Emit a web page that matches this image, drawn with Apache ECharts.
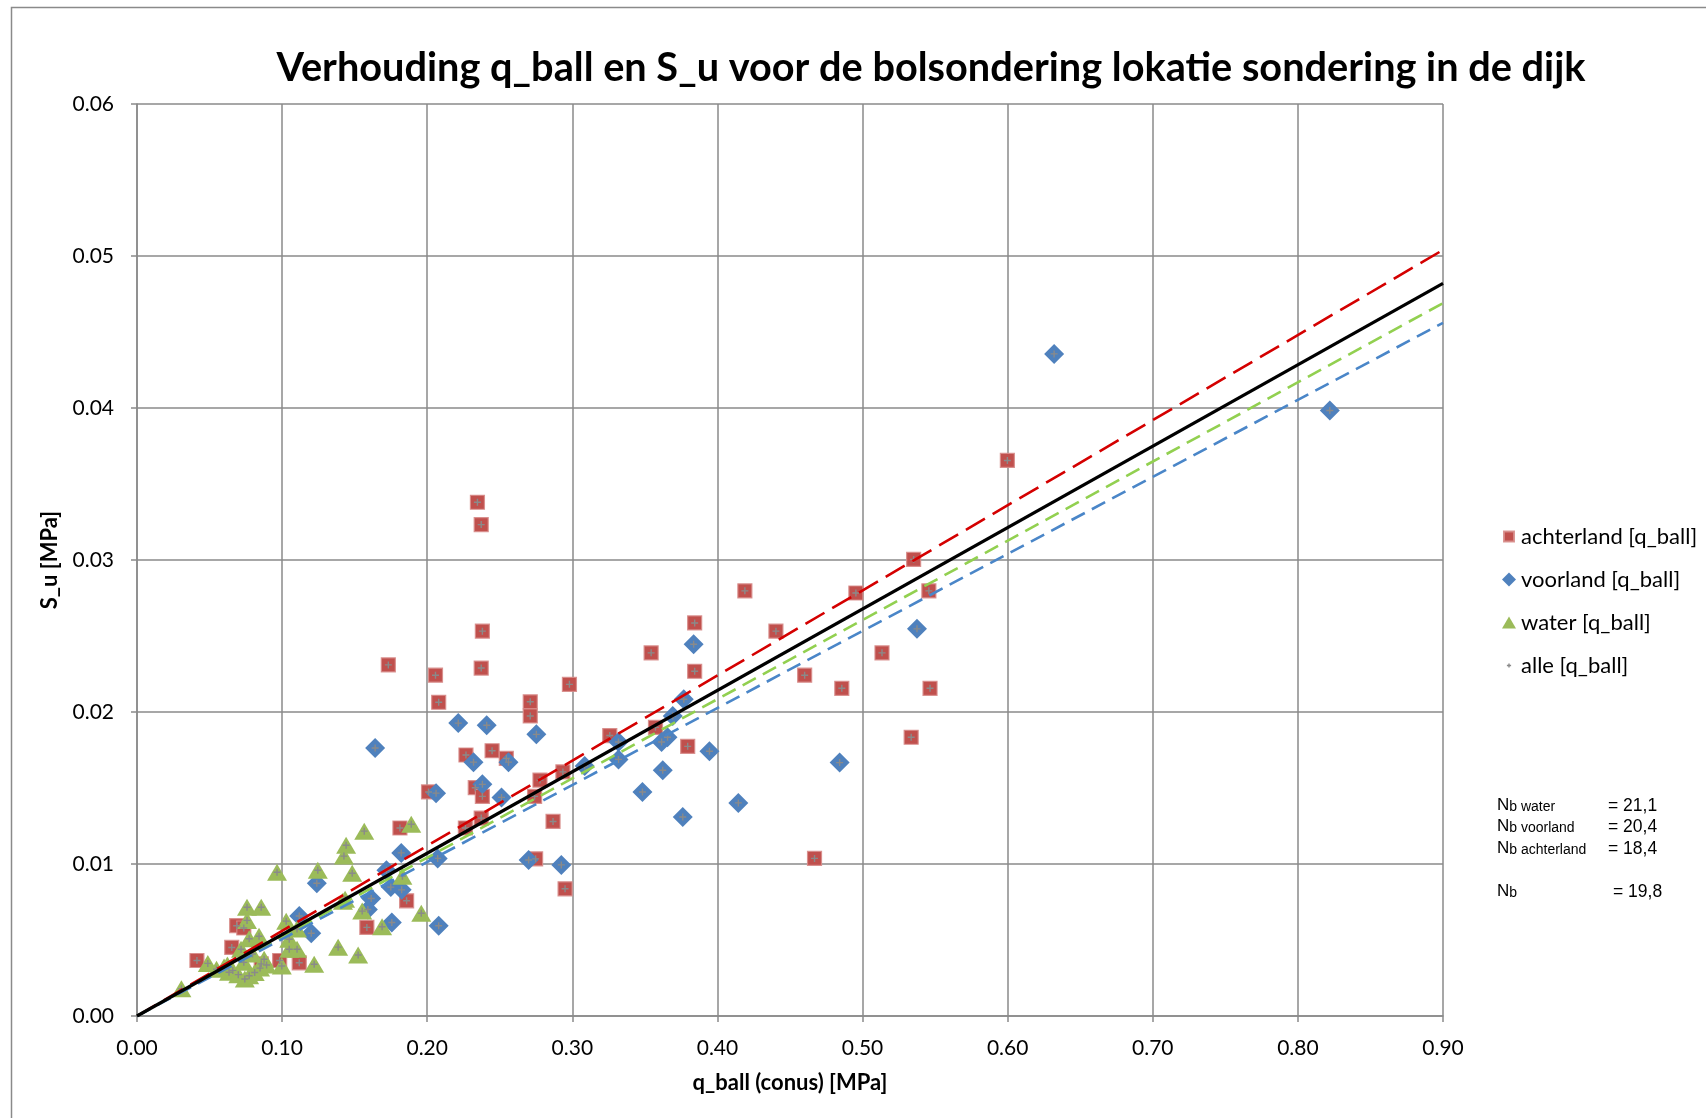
<!DOCTYPE html>
<html><head><meta charset="utf-8">
<script src="https://cdn.jsdelivr.net/npm/echarts@6/dist/echarts.min.js"></script>
<style>html,body{margin:0;padding:0;background:#fff}#c{width:1706px;height:1118px}</style>
</head><body><div id="c"></div>
<script>
const titleText = 'Verhouding q_ball en S_u voor de bolsondering lokatie sondering in de dijk';
const xAxisName = 'q_ball (conus) [MPa]';
const yAxisName = 'S_u [MPa]';
const xMin = 0, xMax = 0.9, xStep = 0.1;
const yMin = 0, yMax = 0.06, yStep = 0.01;

const achterland = [[0.2346,0.0338],[0.2372,0.03233],[0.2380,0.02532],[0.2372,0.02289],[0.1732,0.0231],[0.2057,0.02242],[0.2079,0.02064],[0.2710,0.02067],[0.2710,0.01974],[0.2980,0.02182],[0.2009,0.01474],[0.2267,0.01717],[0.2447,0.01745],[0.2331,0.01502],[0.2380,0.01445],[0.2372,0.01302],[0.2263,0.01237],[0.1812,0.01237],[0.2777,0.01552],[0.2935,0.01606],[0.2867,0.0128],[0.2950,0.00837],[0.2747,0.01034],[0.1858,0.00758],[0.1584,0.00583],[0.0413,0.00365],[0.0687,0.00594],[0.0736,0.00579],[0.0653,0.00451],[0.0983,0.00365],[0.1118,0.0035],[0.0856,0.00343],[0.3258,0.01845],[0.3543,0.02389],[0.3573,0.01899],[0.3795,0.01774],[0.3843,0.02586],[0.3843,0.02268],[0.4189,0.02797],[0.4403,0.02532],[0.4601,0.02242],[0.4857,0.02156],[0.4669,0.01037],[0.4954,0.02783],[0.5134,0.02389],[0.5352,0.03004],[0.5457,0.02797],[0.5465,0.02156],[0.5335,0.01834],[0.5998,0.03655],[0.2545,0.01695],[0.2740,0.01445]];

const voorland = [[0.632,0.04356],[0.822,0.03984],[0.5375,0.02547],[0.3836,0.02446],[0.3768,0.02084],[0.3692,0.01974],[0.3615,0.01803],[0.3656,0.01834],[0.3318,0.01803],[0.3318,0.01688],[0.3945,0.01742],[0.3623,0.01617],[0.3483,0.01474],[0.3761,0.01309],[0.4144,0.01402],[0.4842,0.01667],[0.1641,0.01763],[0.2214,0.01927],[0.2410,0.01913],[0.2752,0.01853],[0.2319,0.0167],[0.2560,0.0167],[0.2380,0.01524],[0.2512,0.01438],[0.2061,0.01466],[0.2699,0.01026],[0.2924,0.00994],[0.2072,0.01037],[0.1821,0.01073],[0.1239,0.00873],[0.1749,0.00848],[0.1824,0.0083],[0.1614,0.00773],[0.1591,0.00701],[0.1756,0.00615],[0.2079,0.00594],[0.1118,0.00658],[0.1201,0.00544],[0.1719,0.00959],[0.3085,0.01645]];

const water = [[0.0306,0.00179],[0.0488,0.00346],[0.0600,0.00322],[0.0634,0.00288],[0.0758,0.00715],[0.0856,0.00715],[0.0758,0.00629],[0.0773,0.00508],[0.0841,0.00525],[0.0717,0.00439],[0.0876,0.00373],[0.0736,0.00353],[0.0965,0.00946],[0.1246,0.00959],[0.1441,0.01123],[0.1426,0.01052],[0.1483,0.00939],[0.1434,0.00768],[0.1552,0.0069],[0.1689,0.00587],[0.1829,0.0092],[0.1959,0.00676],[0.1386,0.00453],[0.1524,0.00401],[0.1221,0.0034],[0.0998,0.00329],[0.1049,0.00439],[0.1103,0.00439],[0.1049,0.00505],[0.1103,0.00572],[0.1028,0.00624],[0.1566,0.01216],[0.1890,0.01262],[0.1419,0.00755],[0.0660,0.003],[0.0698,0.00272],[0.0773,0.00265],[0.0811,0.00286],[0.0848,0.00315],[0.0623,0.00336],[0.0796,0.00408],[0.0548,0.00308],[0.0893,0.00336],[0.0743,0.00243]];

// trend lines: from origin to x = 0.9
const trendNames = ['trend achterland', 'trend alle', 'trend water', 'trend voorland'];
const trendEnd = [[0.9,0.0504],[0.9,0.0482],[0.9,0.0469],[0.9,0.0456]];

const nbLabels = ['water', 'voorland', 'achterland', ''];
const nbValues = ['= 21,1', '= 20,4', '= 18,4', '= 19,8'];

const seriesNames = ['achterland [q_ball]', 'voorland [q_ball]', 'water [q_ball]', 'alle [q_ball]'];
const alle = achterland.concat(voorland, water);

const FONT = 'Lato';
const gridCol = '#8a8a8a';
const chart = echarts.init(document.getElementById('c'), null, {renderer: 'canvas'});

const trendStyles = [
  {color: '#D40000', width: 2.6, type: [22, 9]},
  {color: '#000000', width: 3.2, type: 'solid'},
  {color: '#92D050', width: 2.6, type: [15, 8]},
  {color: '#4A86C8', width: 2.6, type: [15, 8]}
];

const nbGraphics = [];
const nbRowY = [797, 818, 840, 883];
nbLabels.forEach((l, i) => {
  nbGraphics.push({type: 'text', left: 1497, top: nbRowY[i], z: 10,
    style: {text: '{n|N}{s|b' + (l ? ' ' + l : '') + '}', rich: {
      n: {fontFamily: 'Liberation Sans', fontSize: 17, fill: '#000'},
      s: {fontFamily: 'Liberation Sans', fontSize: 14, fill: '#000', padding: [3, 0, 0, 0]}
    }}});
  nbGraphics.push({type: 'text', left: i === 3 ? 1613 : 1608, top: nbRowY[i], z: 10,
    style: {text: nbValues[i], fontFamily: 'Liberation Sans', fontSize: 17.5, fill: '#000'}});
});

const plusPath = 'path://M0,0M20,20M9,7H11V9H13V11H11V13H9V11H7V9H9Z';

const option = {
  backgroundColor: '#ffffff',
  animation: false,
  title: {text: titleText, left: 926, top: 43, textAlign: 'center',
    textStyle: {fontFamily: FONT, fontWeight: 'bold', fontSize: 39.7, color: '#000'}},
  grid: {left: 137, right: 263, top: 104, bottom: 102, containLabel: false},
  legend: {
    orient: 'vertical', left: 1496, top: 520, itemWidth: 14, itemHeight: 14, itemGap: 20,
    textStyle: {fontFamily: FONT, fontSize: 22, color: '#000', lineHeight: 23},
    data: [
      {name: seriesNames[0], icon: 'path://M0,0M14,14M2,2H12V12H2Z'},
      {name: seriesNames[1], icon: 'diamond'},
      {name: seriesNames[2], icon: 'path://M0,0M14,14M7,1L14,13H0Z'},
      {name: seriesNames[3], icon: plusPath, itemStyle: {color: '#8a8a8a'}}
    ]
  },
  xAxis: {
    type: 'value', min: xMin, max: xMax, interval: xStep,
    name: xAxisName, nameLocation: 'middle', nameGap: 56,
    nameTextStyle: {fontFamily: FONT, fontWeight: 'bold', fontSize: 22, color: '#000'},
    axisLine: {show: true, lineStyle: {color: gridCol, width: 1.5}},
    axisTick: {show: true, length: 6, inside: false, lineStyle: {color: gridCol, width: 1.5}},
    axisLabel: {fontFamily: FONT, fontSize: 21, color: '#000', margin: 22, formatter: v => v.toFixed(2)},
    splitLine: {show: true, lineStyle: {color: gridCol, width: 1.5}}
  },
  yAxis: {
    type: 'value', min: yMin, max: yMax, interval: yStep,
    name: yAxisName, nameLocation: 'middle', nameGap: 76, nameRotate: 90,
    nameTextStyle: {fontFamily: FONT, fontWeight: 'bold', fontSize: 22, color: '#000'},
    axisLine: {show: true, lineStyle: {color: gridCol, width: 1.5}},
    axisTick: {show: true, length: 6, inside: false, lineStyle: {color: gridCol, width: 1.5}},
    axisLabel: {fontFamily: FONT, fontSize: 21, color: '#000', margin: 23, formatter: v => v.toFixed(2)},
    splitLine: {show: true, lineStyle: {color: gridCol, width: 1.5}}
  },
  series: [
    {name: seriesNames[0], type: 'scatter', data: achterland, symbol: 'rect', symbolSize: 14, z: 2,
      itemStyle: {color: '#C0504D', borderColor: 'rgba(215,140,138,0.9)', borderWidth: 1.2, opacity: 1}},
    {name: seriesNames[1], type: 'scatter', data: voorland, symbol: 'diamond', symbolSize: 20, z: 3,
      itemStyle: {color: '#4F81BD', opacity: 1}},
    {name: seriesNames[2], type: 'scatter', data: water, symbol: 'triangle', symbolSize: [20, 17], z: 4,
      itemStyle: {color: '#9BBB59', opacity: 1}},
    {name: seriesNames[3], type: 'scatter', data: alle, symbol: 'path://M4,0H6V4H10V6H6V10H4V6H0V4H4Z', symbolSize: 7, z: 5,
      itemStyle: {color: '#8a8a8a', opacity: 1}}
  ].concat(trendNames.map((n, i) => ({
    name: n, type: 'line', data: [[0, 0], trendEnd[i]], symbol: 'none', z: 6 + (i === 1 ? 1 : 0),
    silent: true, lineStyle: trendStyles[i]
  }))),
  graphic: [
    {type: 'rect', left: 9, top: 5, z: 0, silent: true,
      shape: {width: 1760, height: 1200}, style: {fill: 'none', stroke: '#8a8a8a', lineWidth: 1.5}}
  ].concat(nbGraphics)
};
chart.setOption(option);
</script></body></html>
